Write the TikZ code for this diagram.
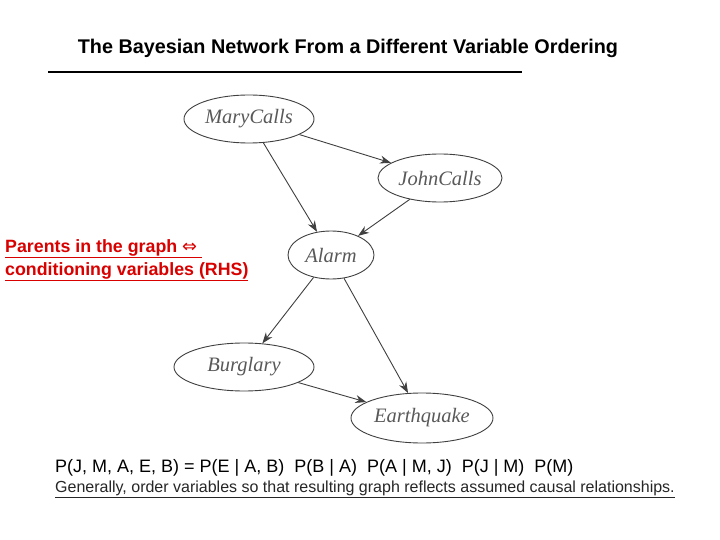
\documentclass[tikz,border=0pt]{standalone}
\usepackage{fontspec}
\setmainfont{Liberation Sans}
\newfontfamily\symf{DejaVu Sans}
\newfontfamily\serf{Liberation Serif}
\usetikzlibrary{arrows.meta,shapes.geometric}
\begin{document}
\begin{tikzpicture}[x=1pt,y=-1pt,
  bn/.style={draw=black!75,line width=0.9pt,ellipse,inner sep=0pt,font=\serf\itshape\fontsize{20.5}{20.5}\selectfont,text=black!65},
  arr/.style={-{Stealth[length=11pt,width=8pt]},draw=black!75,line width=0.9pt}]
\useasboundingbox (0,0) rectangle (720,540);
\fill[white] (0,0) rectangle (720,540);
\node[font=\bfseries\fontsize{19.8}{19.8}\selectfont] (title) at (348,48) {The Bayesian Network From a Different Variable Ordering};
\draw[line width=2.5pt] (48,72) coordinate (l1) -- (522,72) coordinate (l2);
\node[bn,minimum width=130,minimum height=48] (M) at (249,119) {MaryCalls};
\node[bn,minimum width=124,minimum height=48] (J) at (440,178) {JohnCalls};
\node[bn,minimum width=86,minimum height=48] (A) at (331,255) {Alarm};
\node[bn,minimum width=140,minimum height=48] (B) at (244,367) {Burglary};
\node[bn,minimum width=142,minimum height=50] (E) at (422,418) {Earthquake};
\draw[arr] (M) -- (J);
\draw[arr] (M) -- (A);
\draw[arr] (J) -- (A);
\draw[arr] (A) -- (B);
\draw[arr] (A) -- (E);
\draw[arr] (B) -- (E);
\node[anchor=west,text=red!85!black,font=\bfseries\fontsize{17.8}{23}\selectfont,align=left,inner sep=0pt] (red) at (5,260)
 {\underline{Parents in the graph {\symf\mdseries ⇔}\ }\\\underline{conditioning variables (RHS)}};
\node[anchor=west,inner sep=0pt,font=\fontsize{18}{18}\selectfont] (f) at (55,468)
 {P(J, M, A, E, B) = P(E | A, B)\ \ P(B | A)\ \ P(A | M, J)\ \ P(J | M)\ \ P(M)};
\node[anchor=west,inner sep=0pt,font=\fontsize{16}{16}\selectfont,text=black!85] (g) at (55,489)
 {\underline{Generally, order variables so that resulting graph reflects assumed causal relationships.}};
\end{tikzpicture}
\end{document}
